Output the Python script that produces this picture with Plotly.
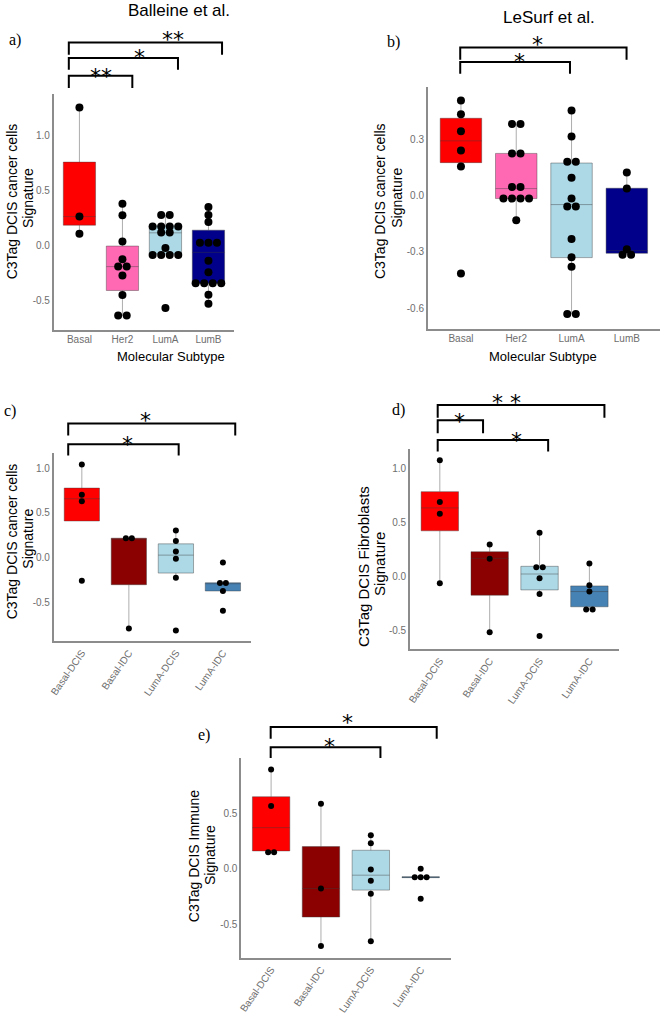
import plotly.graph_objects as go

W, H = 660, 1015

# ---------------- data ----------------
pam50 = ["Basal", "Her2", "LumA", "LumB"]
stage = ["Basal-DCIS", "Basal-IDC", "LumA-DCIS", "LumA-IDC"]
pam50_colors = ["#FF0000", "#FF69B4", "#ADD8E6", "#00008B"]
stage_colors = ["#FF0000", "#8B0000", "#ADD8E6", "#4682B4"]

# a) Balleine et al. - C3Tag DCIS cancer cells signature
a_basal = [1.252, 0.264, 0.108]
a_her2 = [0.381, 0.276, 0.039, -0.123, -0.189, -0.189, -0.270, -0.447, -0.631, -0.631]
a_luma = [0.279, 0.279, 0.175, 0.175, 0.175, 0.175, 0.121, 0.121, -0.021,
          -0.084, -0.084, -0.084, -0.084, -0.564]
a_lumb = [0.351, 0.279, 0.214, 0.027, 0.027, 0.027, -0.135, -0.240,
          -0.339, -0.339, -0.339, -0.339, -0.444, -0.525]
a_q1 = [0.186, -0.405, -0.075, -0.339]
a_med = [0.264, -0.189, 0.117, -0.060]
a_q3 = [0.757, -0.003, 0.180, 0.141]
a_lo = [0.108, -0.631, -0.075, -0.525]
a_hi = [1.252, 0.381, 0.279, 0.351]

# b) LeSurf et al. - C3Tag DCIS cancer cells signature
b_basal = [0.505, 0.432, 0.342, 0.240, 0.154, -0.415]
b_her2 = [0.381, 0.381, 0.224, 0.224, 0.046, 0.046, -0.016, -0.016, -0.016, -0.016, -0.131]
b_luma = [0.452, 0.314, 0.180, 0.180, 0.094, -0.016, -0.058, -0.058,
          -0.231, -0.328, -0.378, -0.630, -0.630]
b_lumb = [0.122, 0.037, -0.285, -0.315, -0.315]
b_q1 = [0.175, -0.016, -0.330, -0.307]
b_med = [0.291, 0.037, -0.048, -0.293]
b_q3 = [0.411, 0.224, 0.173, 0.039]
b_lo = [0.154, -0.131, -0.630, -0.315]
b_hi = [0.505, 0.381, 0.452, 0.122]

# c) C3Tag DCIS cancer cells signature by stage
c_basal_dcis = [1.041, 0.704, 0.630, -0.256]
c_basal_idc = [0.219, 0.219, -0.789]
c_luma_dcis = [0.304, 0.189, 0.070, -0.011, -0.222, -0.811]
c_luma_idc = [-0.052, -0.281, -0.281, -0.370, -0.589]
c_q1 = [0.411, -0.300, -0.170, -0.370]
c_med = [0.659, 0.211, 0.030, -0.278]
c_q3 = [0.778, 0.219, 0.156, -0.278]
c_lo = [0.411, -0.789, -0.222, -0.370]
c_hi = [1.041, 0.219, 0.304, -0.278]

# d) C3Tag DCIS Fibroblasts signature
d_basal_dcis = [1.071, 0.687, 0.577, -0.064]
d_basal_idc = [0.294, 0.163, -0.518]
d_luma_dcis = [0.402, 0.083, 0.083, -0.018, -0.163, -0.552]
d_luma_idc = [0.117, -0.083, -0.141, -0.307, -0.307]
d_q1 = [0.420, -0.175, -0.126, -0.282]
d_med = [0.632, 0.166, 0.021, -0.141]
d_q3 = [0.782, 0.227, 0.092, -0.089]
d_lo = [-0.064, -0.518, -0.163, -0.307]
d_hi = [1.071, 0.294, 0.402, 0.117]

# e) C3Tag DCIS Immune signature
e_basal_dcis = [0.893, 0.564, 0.149, 0.149]
e_basal_idc = [0.585, -0.176, -0.693]
e_luma_dcis = [0.301, 0.230, -0.006, -0.107, -0.224, -0.651]
e_luma_idc = [0.0, -0.075, -0.075, -0.075, -0.269]
e_q1 = [0.161, -0.433, -0.191, -0.079]
e_med = [0.370, -0.176, -0.057, -0.075]
e_q3 = [0.648, 0.200, 0.167, -0.071]
e_lo = [0.149, -0.693, -0.651, -0.079]
e_hi = [0.893, 0.585, 0.301, -0.071]

ticks_a = [-0.5, 0.0, 0.5, 1.0]
ticks_b = [-0.6, -0.3, 0.0, 0.3]
ticks_c = [-0.5, 0.0, 0.5, 1.0]
ticks_d = [-0.5, 0.0, 0.5, 1.0]
ticks_e = [-0.5, 0.0, 0.5]

# ---------------- layout helpers ----------------
def px(x):
    return x / W


def py(y):
    return 1 - y / H


panels = [
    dict(pts=[a_basal, a_her2, a_luma, a_lumb], q1=a_q1, med=a_med, q3=a_q3, lo=a_lo, hi=a_hi,
         cats=pam50, colors=pam50_colors, dx=(49, 231), dy=(94, 331), yr=(-0.760, 1.377),
         ticks=ticks_a, dot=8, gap=8.6, angle=0),
    dict(pts=[b_basal, b_her2, b_luma, b_lumb], q1=b_q1, med=b_med, q3=b_q3, lo=b_lo, hi=b_hi,
         cats=pam50, colors=pam50_colors, dx=(426, 660), dy=(87, 330), yr=(-0.708, 0.579),
         ticks=ticks_b, dot=8, gap=8.6, angle=0),
    dict(pts=[c_basal_dcis, c_basal_idc, c_luma_dcis, c_luma_idc], q1=c_q1, med=c_med, q3=c_q3,
         lo=c_lo, hi=c_hi, cats=stage, colors=stage_colors, dx=(49, 248), dy=(455, 644),
         yr=(-0.933, 1.167), ticks=ticks_c, dot=6, gap=6, angle=-55),
    dict(pts=[d_basal_dcis, d_basal_idc, d_luma_dcis, d_luma_idc], q1=d_q1, med=d_med, q3=d_q3,
         lo=d_lo, hi=d_hi, cats=stage, colors=stage_colors, dx=(408, 619), dy=(451, 652),
         yr=(-0.676, 1.174), ticks=ticks_d, dot=6, gap=6.5, angle=-55),
    dict(pts=[e_basal_dcis, e_basal_idc, e_luma_dcis, e_luma_idc], q1=e_q1, med=e_med, q3=e_q3,
         lo=e_lo, hi=e_hi, cats=stage, colors=stage_colors, dx=(238, 449), dy=(761, 962),
         yr=(-0.803, 0.996), ticks=ticks_e, dot=6, gap=6, angle=-55),
]

FONT = "Liberation Sans, Arial, sans-serif"
SERIF = "Liberation Serif, Times New Roman, serif"
AXIS_COL = "#8c8c8c"
TICK_COL = "#6e6e6e"

fig = go.Figure()
layout_axes = {}
XR = (-0.6, 3.6)

for i, p in enumerate(panels, start=1):
    xa, ya = f"x{i}", f"y{i}"
    # boxes
    for j, cat in enumerate(p["cats"]):
        fig.add_trace(go.Box(
            x=[j], q1=[p["q1"][j]], median=[p["med"][j]], q3=[p["q3"][j]],
            lowerfence=[p["lo"][j]], upperfence=[p["hi"][j]],
            width=0.75, whiskerwidth=0, fillcolor=p["colors"][j],
            line=dict(color="rgba(60,60,60,0.42)", width=1),
            boxpoints=False, orientation="v", xaxis=xa, yaxis=ya,
            showlegend=False, hoverinfo="skip"))
    # dots (dot-plot style: equal values stacked side by side)
    unit_px = (p["dx"][1] - p["dx"][0]) / (XR[1] - XR[0])
    xs, ys = [], []
    for j, vals in enumerate(p["pts"]):
        counts = {}
        for v in vals:
            counts[v] = counts.get(v, 0) + 1
        for v, k in counts.items():
            for m in range(k):
                xs.append(j + (m - (k - 1) / 2) * p["gap"] / unit_px)
                ys.append(v)
    fig.add_trace(go.Scatter(
        x=xs, y=ys, mode="markers", xaxis=xa, yaxis=ya, showlegend=False,
        marker=dict(color="black", size=p["dot"], line=dict(width=0)),
        cliponaxis=False, hoverinfo="skip"))

    key = "" if i == 1 else str(i)
    layout_axes[f"xaxis{key}"] = dict(
        domain=[px(p["dx"][0]), px(p["dx"][1])], range=list(XR), anchor=ya,
        tickmode="array", tickvals=list(range(len(p["cats"]))), ticktext=p["cats"],
        tickangle=p["angle"], showline=True, linecolor=AXIS_COL, linewidth=1.5,
        showgrid=False, zeroline=False, ticks="",
        tickfont=dict(family=FONT, size=10, color=TICK_COL))
    layout_axes[f"yaxis{key}"] = dict(
        domain=[py(p["dy"][1]), py(p["dy"][0])], range=list(p["yr"]), anchor=xa,
        tickmode="array", tickvals=p["ticks"], ticktext=[f"{t:.1f}" for t in p["ticks"]],
        showline=True, linecolor=AXIS_COL, linewidth=1.5,
        showgrid=False, zeroline=False, ticks="",
        tickfont=dict(family=FONT, size=10, color=TICK_COL))

fig.update_layout(**layout_axes)

# ---------------- significance brackets ----------------
brackets = [
    # (x_left, x_right, y_top, y_leg_bottom) in pixels
    (64.3, 218.7, 42.7, 55), (64.3, 174.3, 58.3, 70), (64.3, 128.3, 76, 88.3),
    (458.7, 626.3, 47.7, 60), (458.7, 569.3, 62.3, 74),
    (63.7, 232, 425.3, 437.3), (63.7, 175, 446, 457.3),
    (436, 604, 406.7, 419.3), (436, 481.7, 422, 435), (436, 547.3, 441.7, 453.3),
    (267.7, 435, 730, 741.7), (267.7, 378.3, 750.3, 761),
]
shapes = []
for xl, xr, yt, yb in brackets:
    path = (f"M {px(xl)},{py(yb)} L {px(xl)},{py(yt)} "
            f"L {px(xr)},{py(yt)} L {px(xr)},{py(yb)}")
    shapes.append(dict(type="path", path=path, xref="paper", yref="paper",
                       line=dict(color="black", width=2), layer="above"))
fig.update_layout(shapes=shapes)

stars = [
    ("**", 169, 33.3), ("*", 136, 51.7), ("**", 96.7, 70.7),
    ("*", 536.7, 38.3), ("*", 518.3, 55.7),
    ("*", 141.7, 416), ("*", 123.3, 440),
    ("* *", 505.7, 398), ("*", 458.3, 417), ("*", 515.7, 436),
    ("*", 345, 719.3), ("*", 326.7, 743.3),
]
ann = []
STAR_FS = 22
for s, x, y in stars:
    ann.append(dict(text=s, x=px(x), y=py(y + 0.27 * STAR_FS), xref="paper", yref="paper",
                    xanchor="center", yanchor="middle", showarrow=False,
                    font=dict(family="DejaVu Sans, sans-serif", size=STAR_FS, color="black")))

# titles
ann.append(dict(text="Balleine et al.", x=px(175), y=py(11), xref="paper", yref="paper",
                xanchor="center", yanchor="middle", showarrow=False,
                font=dict(family=FONT, size=17, color="black")))
ann.append(dict(text="LeSurf et al.", x=px(548.5), y=py(18), xref="paper", yref="paper",
                xanchor="center", yanchor="middle", showarrow=False,
                font=dict(family=FONT, size=17, color="black")))

# panel letters
for lab, x, y in [("a)", 10.3, 40), ("b)", 391.7, 41.7), ("c)", 5, 413),
                  ("d)", 397, 411.7), ("e)", 200.5, 738.3)]:
    ann.append(dict(text=lab, x=px(x), y=py(y), xref="paper", yref="paper",
                    xanchor="center", yanchor="middle", showarrow=False,
                    font=dict(family=SERIF, size=16, color="black")))

# axis titles (each line placed separately, rotated)
for txt, x, y, fs in [
    ("C3Tag DCIS cancer cells", 6.5, 201.7, 14), ("Signature", 23, 199, 14),
    ("C3Tag DCIS cancer cells", 378, 201.7, 14), ("Signature", 395.5, 199, 14),
    ("C3Tag DCIS cancer cells", 6.5, 543, 14), ("Signature", 23, 541, 14),
    ("C3Tag DCIS Fibroblasts", 361, 569, 15), ("Signature", 378, 566, 15),
    ("C3Tag DCIS Immune", 190, 860, 14), ("Signature", 206, 858, 14),
]:
    ann.append(dict(text=txt, x=px(x), y=py(y), xref="paper", yref="paper",
                    xanchor="center", yanchor="middle", showarrow=False, textangle=-90,
                    font=dict(family=FONT, size=fs, color="black")))
for x, y in [(167, 358.3), (541.7, 358.3)]:
    ann.append(dict(text="Molecular Subtype", x=px(x), y=py(y), xref="paper", yref="paper",
                    xanchor="center", yanchor="middle", showarrow=False,
                    font=dict(family=FONT, size=13, color="black")))

fig.update_layout(
    annotations=ann, width=W, height=H, margin=dict(l=0, r=0, t=0, b=0),
    paper_bgcolor="white", plot_bgcolor="white", showlegend=False,
    font=dict(family=FONT),
)

fig.write_html("out.html", config={"displayModeBar": False},
               post_script="document.body.style.margin='0px';document.body.style.overflow='hidden';")
